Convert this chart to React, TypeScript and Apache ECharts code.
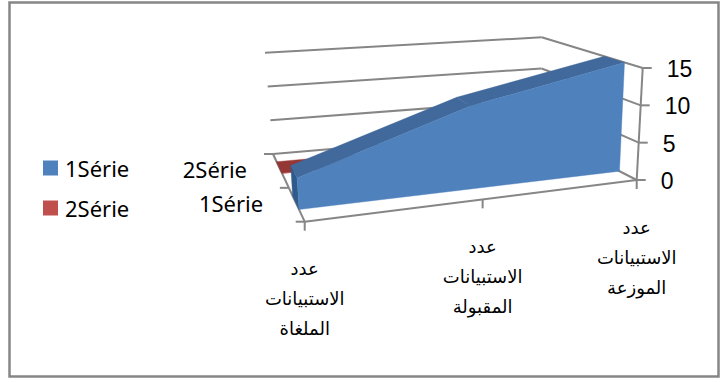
import React, { useEffect, useRef } from "react";
import * as echarts from "echarts";

const WIDTH = 723;
const HEIGHT = 382;

const categoryLines = [
  ["عدد", "الاستبيانات", "الملغاة"],
  ["عدد", "الاستبيانات", "المقبولة"],
  ["عدد", "الاستبيانات", "الموزعة"],
];
const seriesNames = ["1Série", "2Série"];
const series1Values = [4, 11, 15];
const series2Values = [0, 0, 0];
const valueTicks = [0, 5, 10, 15];

const LINE = "#868686";
const BLUE = { front: "#4F81BD", top: "#41699B", side: "#2F5A8C" };
const RED = { front: "#C0504D", top: "#953735", side: "#7F2E2C" };

type P = [number, number];

// Corners of the 3D plot box on screen: F/B = front/back, L/R = left/right, B/T = bottom/top.
const box = {
  FLB: [304.7, 221.7] as P,
  FRB: [636.7, 180] as P,
  BLB: [273, 154] as P,
  BRB: [541, 131] as P,
  FLT: [298, 100] as P,
  FRT: [642.7, 68] as P,
  BLT: [265, 52.7] as P,
  BRT: [541.7, 37.3] as P,
};

const mix = (a: P, b: P, t: number): P => [a[0] + (b[0] - a[0]) * t, a[1] + (b[1] - a[1]) * t];

// Foreshortening along the category direction.
const warp = (u: number) => u / (u + 0.866 * (1 - u));

// u: along categories, v: depth (0 front, 1 back), w: fraction of the value range.
function project(u: number, v: number, w: number): P {
  const t = warp(u);
  const bottom = mix(mix(box.FLB, box.FRB, t), mix(box.BLB, box.BRB, t), v);
  const top = mix(mix(box.FLT, box.FRT, t), mix(box.BLT, box.BRT, t), v);
  return mix(bottom, top, w);
}

const line = (a: P, b: P, width = 2) => ({
  type: "line",
  shape: { x1: a[0], y1: a[1], x2: b[0], y2: b[1] },
  style: { stroke: LINE, lineWidth: width },
  silent: true,
});

const poly = (points: P[], fill: string) => ({
  type: "polygon",
  shape: { points },
  style: { fill, stroke: fill, lineWidth: 0.4 },
  silent: true,
});

const label = (text: string, x: number, y: number, font: string, size: number, align = "center") => ({
  type: "text",
  x,
  y,
  style: { text, fill: "#000", fontFamily: font, fontSize: size, align, verticalAlign: "middle" },
  silent: true,
});

// The pixel grid fills the whole canvas, so a coordinate maps straight to (u, w).
const toUW = (px: number[]) => ({ u: px[0] / WIDTH, w: 1 - px[1] / HEIGHT });

function renderArea(values: number[], vFront: number, vBack: number, colors: typeof BLUE) {
  return (params: any, api: any) => {
    if (params.dataIndex !== 0) return null;
    const pts = values.map((val, i) => toUW(api.coord([i, val])));
    const base = values.map((_, i) => toUW(api.coord([i, 0])));
    const front = pts.map((p) => project(p.u, vFront, p.w));
    const frontBase = base.map((p) => project(p.u, vFront, 0)).reverse();
    const back = pts.map((p) => project(p.u, vBack, p.w));
    const children: any[] = [
      poly(
        [project(pts[0].u, vBack, 0), project(pts[0].u, vFront, 0), front[0], back[0]],
        colors.side
      ),
    ];
    for (let i = 0; i < pts.length - 1; i++) {
      children.push(poly([front[i], front[i + 1], back[i + 1], back[i]], colors.top));
    }
    children.push(poly([...front, ...frontBase], colors.front));
    return { type: "group", children };
  };
}

function renderFrame(_params: any, api: any) {
  if (_params.dataIndex !== 0) return null;
  const children: any[] = [];
  valueTicks.forEach((tick) => {
    const w = toUW(api.coord([0, tick])).w;
    const backLeft = project(0, 1, w);
    const backRight = project(1, 1, w);
    const frontRight = project(1, 0, w);
    children.push(line(backLeft, backRight), line(backRight, frontRight));
    children.push(line(frontRight, [frontRight[0] + 9, frontRight[1]]));
  });
  children.push(line(project(1, 0, 0), project(1, 0, 1)));
  children.push(line(project(0, 0, 0), project(1, 0, 0)));
  children.push(line(project(0, 0, 0), project(0, 1, 0)));
  // Depth ticks at the series boundaries, category ticks below the front edge.
  [0, 0.5, 1].forEach((v) => {
    const p = project(0, v, 0);
    children.push(line(p, [p[0] - 9, p[1]]));
  });
  categoryLines.forEach((_, i) => {
    const p = project(toUW(api.coord([i, 0])).u, 0, 0);
    children.push(line(p, [p[0], p[1] + 9]));
  });
  return { type: "group", children };
}

function renderLabels(_params: any, api: any) {
  if (_params.dataIndex !== 0) return null;
  const children: any[] = [];
  valueTicks.forEach((tick) => {
    const w = toUW(api.coord([0, tick])).w;
    const p = project(1, 0, w);
    children.push(label(String(tick), p[0] + 24, p[1] + 1, "Liberation Sans", 23, "left"));
  });
  categoryLines.forEach((lines, i) => {
    const p = project(toUW(api.coord([i, 0])).u, 0, 0);
    lines.forEach((text, j) => {
      children.push(label(text, p[0], p[1] + 47 + j * 30, "DejaVu Sans", 18));
    });
  });
  seriesNames.forEach((name, i) => {
    const p = project(0, i === 0 ? 0.27 : 0.78, 0);
    children.push(label(name, p[0] - 33, p[1], "Noto Sans", 22, "right"));
  });
  return { type: "group", children };
}

const customBase = {
  type: "custom" as const,
  coordinateSystem: "cartesian2d",
  silent: true,
  clip: false,
};

export default function App() {
  const ref = useRef<HTMLDivElement>(null);
  useEffect(() => {
    const chart = echarts.init(ref.current!, null, { renderer: "svg" });
    const indices = categoryLines.map((_, i) => i);
    chart.setOption({
      animation: false,
      backgroundColor: "#fff",
      grid: { left: 0, right: 0, top: 0, bottom: 0 },
      xAxis: {
        type: "category",
        show: false,
        boundaryGap: false,
        data: categoryLines.map((l) => l.join(" ")),
      },
      yAxis: { type: "value", show: false, min: 0, max: 15, interval: 5 },
      legend: {
        orient: "vertical",
        left: 38,
        top: 152,
        itemWidth: 15,
        itemHeight: 15,
        itemGap: 18,
        icon: "rect",
        data: seriesNames,
        selectedMode: false,
        textStyle: { fontFamily: "Noto Sans", fontSize: 22, color: "#000", padding: [0, 0, 0, 2] },
      },
      graphic: [
        {
          type: "rect",
          shape: { x: 9.5, y: 2.5, width: 709, height: 374 },
          style: { fill: "none", stroke: LINE, lineWidth: 2.5 },
          silent: true,
          z: -10,
        },
      ],
      series: [
        { ...customBase, name: "frame", data: indices.map((i) => [i, 0]), renderItem: renderFrame, z: 1 },
        {
          ...customBase,
          name: seriesNames[1],
          itemStyle: { color: RED.front },
          data: series2Values.map((v, i) => [i, v]),
          renderItem: renderArea(series2Values, 0.715, 0.886, RED),
          z: 2,
        },
        {
          ...customBase,
          name: seriesNames[0],
          itemStyle: { color: BLUE.front },
          data: series1Values.map((v, i) => [i, v]),
          renderItem: renderArea(series1Values, 0.18, 0.38, BLUE),
          z: 3,
        },
        { ...customBase, name: "labels", data: indices.map((i) => [i, 0]), renderItem: renderLabels, z: 4 },
      ],
    });
    return () => chart.dispose();
  }, []);
  return (
    <div
      ref={ref}
      style={{ position: "absolute", left: 0, top: 0, width: WIDTH, height: HEIGHT }}
    />
  );
}
